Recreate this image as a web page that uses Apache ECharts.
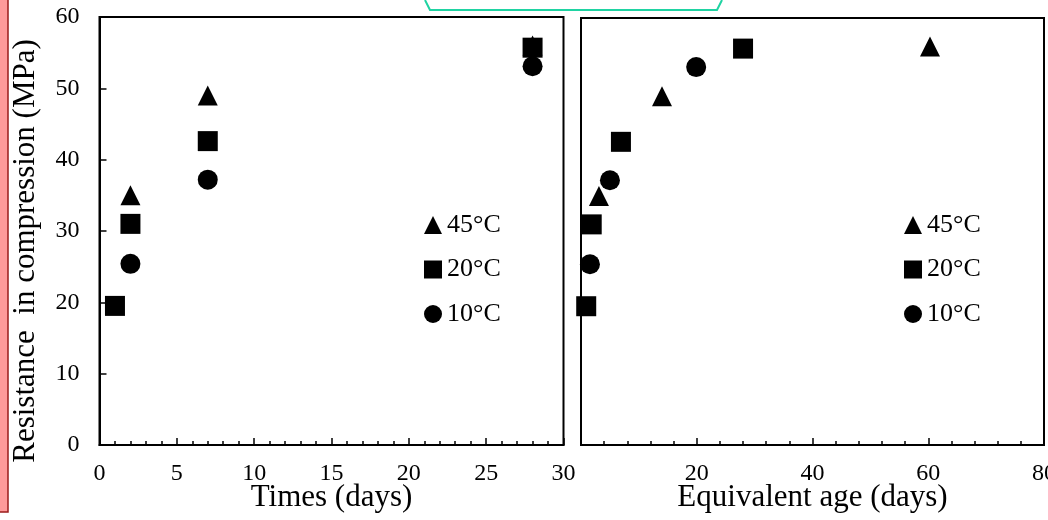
<!DOCTYPE html>
<html>
<head>
<meta charset="utf-8">
<script src="https://cdn.jsdelivr.net/npm/echarts@6/dist/echarts.min.js"></script>
<style>html,body{margin:0;padding:0;background:#fff}#c{width:1048px;height:520px}</style>
</head>
<body>
<div id="c"></div>
<script>
// ---- data ----
const seriesNames = ['45°C', '20°C', '10°C'];
const days45 = [2, 7, 28];
const days20 = [1, 2, 7, 28];
const days10 = [2, 7, 28];
const eqAge45 = [3.1, 14, 60.3];
const eqAge20 = [0.9, 1.85, 6.9, 28];
const eqAge10 = [1.55, 5.0, 19.9];
const strength45 = [35, 49, 56];
const strength20 = [19.5, 31, 42.6, 55.7];
const strength10 = [25.4, 37.2, 53.1];
const yTitle = 'Resistance  in compression (MPa)';
const xTitleLeft = 'Times (days)';
const xTitleRight = 'Equivalent age (days)';

const FONT = '"Liberation Serif", "Times New Roman", serif';
const zip = (a, b) => a.map((v, i) => [v, b[i]]);

const chart = echarts.init(document.getElementById('c'), null, {renderer: 'canvas'});

const tickLbl = {fontFamily: FONT, fontSize: 24, color: '#000'};
const axisLineStyle = {show: true, onZero: false, lineStyle: {color: '#000', width: 2}};

function scatter(name, sym, x, y, idx) {
  return {
    type: 'scatter', name: name, symbol: sym, symbolSize: 20,
    xAxisIndex: idx, yAxisIndex: idx,
    itemStyle: {color: '#000', opacity: 1},
    data: zip(x, y)
  };
}

const legendBase = {
  orient: 'vertical', itemWidth: 18, itemHeight: 18, itemGap: 18.5,
  selectedMode: false, data: seriesNames,
  itemStyle: {opacity: 1, color: '#000'},
  textStyle: {fontFamily: FONT, fontSize: 26, color: '#000'}
};

chart.setOption({
  animation: false,
  backgroundColor: '#fff',
  grid: [
    {left: 99.5, right: 484.5, top: 17, bottom: 75, outerBoundsMode: 'none', show: true, borderColor: '#000', borderWidth: 2, backgroundColor: 'transparent'},
    {left: 581, right: 4, top: 18, bottom: 75, outerBoundsMode: 'none', show: true, borderColor: '#000', borderWidth: 2, backgroundColor: 'transparent'}
  ],
  xAxis: [
    {
      gridIndex: 0, type: 'value', min: 0, max: 30, interval: 5,
      axisLine: axisLineStyle,
      axisTick: {show: true, inside: true, length: 7, lineStyle: {color: '#000', width: 1.5}},
      minorTick: {show: true, splitNumber: 5, length: 4, lineStyle: {color: '#000', width: 1.5}},
      splitLine: {show: false},
      axisLabel: Object.assign({margin: 17}, tickLbl),
      name: xTitleLeft, nameLocation: 'middle', nameGap: 37, nameMoveOverlap: false,
      nameTextStyle: {fontFamily: FONT, fontSize: 31, color: '#000'}
    },
    {
      gridIndex: 1, type: 'value', min: 0, max: 80, interval: 20,
      axisLine: axisLineStyle,
      axisTick: {show: true, inside: true, length: 7, lineStyle: {color: '#000', width: 1.5}},
      minorTick: {show: true, splitNumber: 5, length: 4, lineStyle: {color: '#000', width: 1.5}},
      splitLine: {show: false},
      axisLabel: Object.assign({margin: 17, showMinLabel: false}, tickLbl),
      name: xTitleRight, nameLocation: 'middle', nameGap: 37, nameMoveOverlap: false,
      nameTextStyle: {fontFamily: FONT, fontSize: 31, color: '#000'}
    }
  ],
  yAxis: [
    {
      gridIndex: 0, type: 'value', min: 0, max: 60, interval: 10,
      axisLine: axisLineStyle,
      axisTick: {show: true, inside: true, length: 7, lineStyle: {color: '#000', width: 1.5}},
      splitLine: {show: false},
      axisLabel: Object.assign({margin: 20}, tickLbl)
    },
    {
      gridIndex: 1, type: 'value', min: 0, max: 60, interval: 10,
      axisLine: axisLineStyle,
      axisTick: {show: false},
      splitLine: {show: false},
      axisLabel: {show: false}
    }
  ],
  legend: [
    Object.assign({left: 419, top: 207}, legendBase),
    Object.assign({left: 899, top: 207}, legendBase)
  ],
  series: [
    scatter(seriesNames[0], 'triangle', days45, strength45, 0),
    scatter(seriesNames[1], 'rect', days20, strength20, 0),
    scatter(seriesNames[2], 'circle', days10, strength10, 0),
    scatter(seriesNames[0], 'triangle', eqAge45, strength45, 1),
    scatter(seriesNames[1], 'rect', eqAge20, strength20, 1),
    scatter(seriesNames[2], 'circle', eqAge10, strength10, 1)
  ],
  graphic: [
    {type: 'rect', shape: {x: -2, y: -2, width: 10, height: 514}, style: {fill: '#ff9a9a', stroke: '#9b1b1b', lineWidth: 1.5}, z: 100},
    {type: 'polyline', shape: {points: [[425, 0], [430, 10], [717, 10], [722, 0]]}, style: {fill: null, stroke: '#1fd3a2', lineWidth: 2}, z: 100},
    {type: 'text', x: 26, y: 251, rotation: Math.PI / 2,
     style: {text: yTitle, fontFamily: FONT, fontSize: 31, fill: '#000', align: 'center', verticalAlign: 'middle'}, z: 100}
  ]
});
</script>
</body>
</html>
